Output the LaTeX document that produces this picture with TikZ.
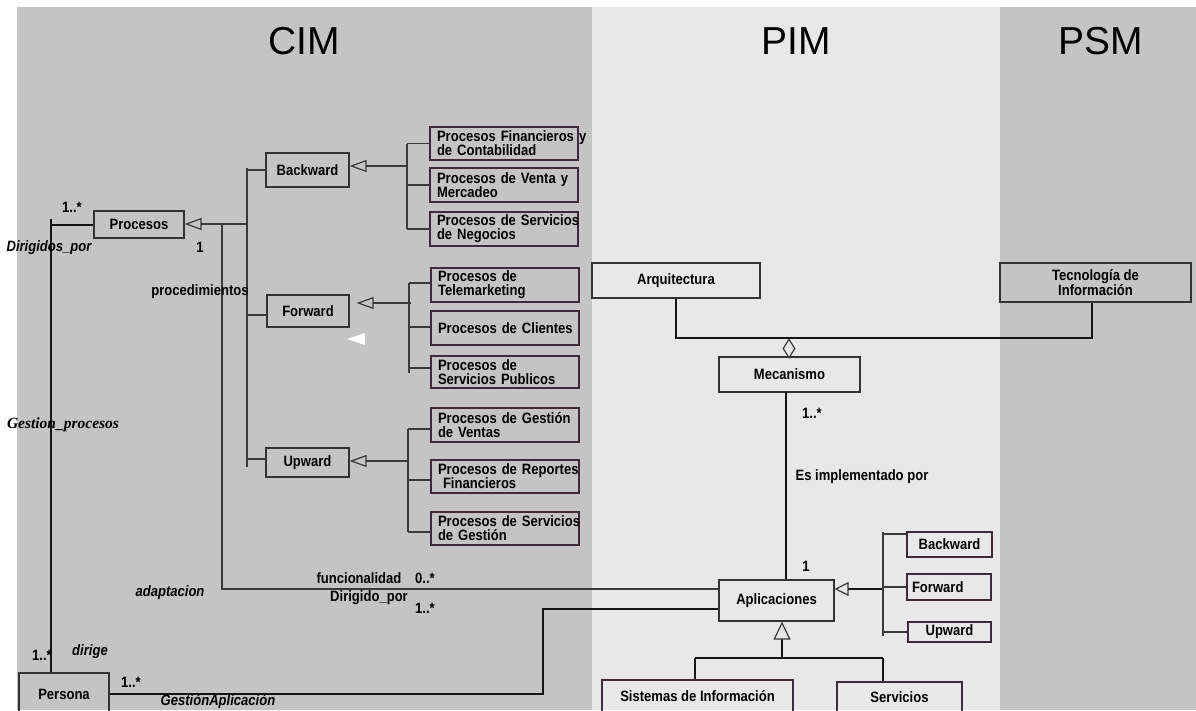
\documentclass[tikz,border=0pt]{standalone}
\usepackage{fontspec}
\setmainfont{Liberation Sans}
\newfontfamily\narfam[FakeStretch=0.87]{Liberation Sans}
\newfontfamily\serfam{Liberation Serif}
\usetikzlibrary{arrows.meta,shapes.geometric}
\definecolor{cimbg}{HTML}{C4C4C4}
\definecolor{pimbg}{HTML}{E8E8E8}
\definecolor{boxline}{HTML}{3D2B3A}
\definecolor{genline}{HTML}{3A3A3A}
\definecolor{assocline}{HTML}{141414}
\newcommand\lblfont{\narfam\bfseries\fontsize{15}{14}\selectfont}
\newcommand\ilblfont{\narfam\bfseries\itshape\fontsize{15}{14}\selectfont}
\newcommand\slblfont{\serfam\bfseries\itshape\fontsize{15.5}{15}\selectfont}
\begin{document}
\begin{tikzpicture}[x=1pt,y=-1pt,
  box/.style={draw=boxline, line width=1.2pt, inner sep=0pt, font=\lblfont, align=center},
  gbox/.style={box, draw=black!80},
  pbox/.style={box, text width=134pt, inner xsep=7pt, align=left, minimum width=148pt},
  lbl/.style={font=\lblfont, inner sep=0pt},
  ilbl/.style={font=\ilblfont, inner sep=0pt},
  slbl/.style={font=\slblfont, inner sep=0pt},
  head/.style={font=\fontsize{39}{39}\selectfont, inner sep=0pt},
  assoc/.style={draw=assocline, line width=2pt},
  gen/.style={draw=genline, line width=1.2pt},
  tri/.style={-{Triangle[open,length=17pt,width=12pt]}},
  rtri/.style={-{Triangle[open,length=14pt,width=14pt,line width=1.2pt,color=genline]}},
  btri/.style={-{Triangle[open,length=18pt,width=17pt,line width=1.2pt,color=genline]}}
]
\clip (0,0) rectangle (1196,710);
% backgrounds
\fill[white] (0,0) rectangle (1196,710);
\fill[cimbg] (17,7) rectangle (592,710);
\fill[pimbg] (592,7) rectangle (1000,710);
\fill[cimbg] (1000,7) rectangle (1196,710);
\node[head] (hcim) at (304,41) {CIM};
\node[head] (hpim) at (796,41) {PIM};
\node[head] (hpsm) at (1101,41) {PSM};

% CIM class boxes
\node[gbox, minimum width=90pt, minimum height=27pt] (procesos) at (139,224.5) {Procesos};
\node[gbox, minimum width=83pt, minimum height=34pt] (backward) at (307.5,170) {Backward};
\node[gbox, minimum width=82pt, minimum height=32pt] (forward) at (308,311) {Forward};
\node[gbox, minimum width=83pt, minimum height=29pt] (upward) at (307.5,462.5) {Upward};

% process boxes
\node[pbox, minimum height=33pt] (pfin) at (504,143.5) {\mbox{Procesos Financieros y}\\de Contabilidad};
\node[pbox, minimum height=34pt] (pven) at (504,185) {\mbox{Procesos de Venta y}\\Mercadeo};
\node[pbox, minimum height=34pt] (pneg) at (504,229) {\mbox{Procesos de Servicios}\\de Negocios};
\node[pbox, minimum height=34pt] (ptel) at (505,285) {Procesos de\\Telemarketing};
\node[pbox, minimum height=34pt] (pcli) at (505,328) {\mbox{Procesos de Clientes}};
\node[pbox, minimum height=32pt] (ppub) at (505,372) {Procesos de\\\mbox{Servicios Publicos}};
\node[pbox, minimum height=34pt] (pgv) at (505,425) {\mbox{Procesos de Gestión}\\de Ventas};
\node[pbox, minimum height=33pt] (prf) at (505,476.5) {\mbox{Procesos de Reportes}\\\ Financieros};
\node[pbox, minimum height=33pt] (psg) at (505,528.5) {\mbox{Procesos de Servicios}\\de Gestión};

\node[gbox, minimum width=90pt, minimum height=42pt] (persona) at (64,694) {Persona};

% PIM / PSM boxes
\node[gbox, minimum width=168pt, minimum height=35pt] (arq) at (676,280.5) {Arquitectura};
\node[gbox, minimum width=191pt, minimum height=39pt] (tec) at (1095.5,282.5) {Tecnología de\\Información};
\node[gbox, minimum width=141pt, minimum height=35pt] (mec) at (789.5,374.5) {Mecanismo};
\node[gbox, minimum width=115pt, minimum height=41pt] (apl) at (776.5,600.5) {Aplicaciones};
\node[box, minimum width=85pt, minimum height=25pt] (rbw) at (949.5,544.5) {Backward};
\node[box, minimum width=84pt, minimum height=26pt, text width=74pt, align=left, inner xsep=5pt] (rfw) at (949,587) {Forward};
\node[box, minimum width=83pt, minimum height=20pt] (ruw) at (949.5,632) {Upward};
\node[box, minimum width=191pt, minimum height=32pt] (sis) at (697.5,696) {Sistemas de Información};
\node[box, minimum width=125pt, minimum height=30pt] (ser) at (899.5,697) {Servicios};
\node[diamond, draw=genline, line width=1.2pt, aspect=0.63, minimum width=12pt, minimum height=19pt, inner sep=0pt] (dia) at (789,348.5) {};

% Procesos - Persona association
\coordinate (jPv) at (51,219);
\draw[assoc] (procesos.west) -- (procesos.west -| jPv);
\draw[assoc] (jPv) -- (jPv |- persona.north);

% generalization to Procesos
\coordinate (jG) at (247,224);
\coordinate (jF) at (222,224);
\coordinate (jGt) at (247,168);
\coordinate (jGb) at (247,467);
\coordinate (sF) at (247,315);
\coordinate (sU) at (247,459);
\draw[gen,tri] (jG) -- (jG -| procesos.east);
\draw[gen] (jGt) -- (jGb);
\draw[gen] (jG |- backward.west) -- (backward.west);
\draw[gen] (sF) -- (sF -| forward.west);
\draw[gen] (sU) -- (sU -| upward.west);

% funcionalidad line to Aplicaciones
\coordinate (jFb) at (222,589);
\draw[gen, line width=1.5pt] (jF) -- (jFb) -- (jFb -| apl.west);

% Backward group
\coordinate (jBk) at (407,166);
\draw[gen,tri] (jBk) -- (jBk -| backward.east);
\draw[gen] (jBk |- pfin.west) -- (jBk |- pneg.west);
\draw[gen] (jBk |- pfin.west) -- (pfin.west);
\draw[gen] (jBk |- pven.west) -- (pven.west);
\draw[gen] (jBk |- pneg.west) -- (pneg.west);

% Forward group
\coordinate (jFw) at (411,303);
\coordinate (fA) at (409,283);
\coordinate (fB) at (409,327);
\coordinate (fC) at (409,368);
\coordinate (fD) at (409,373);
\draw[gen,tri] (jFw) -- ([xshift=7pt]jFw -| forward.east);
\draw[gen] (fA) -- (fD);
\draw[gen] (fA) -- (fA -| ptel.west);
\draw[gen] (fB) -- (fB -| pcli.west);
\draw[gen] (fC) -- (fC -| ppub.west);
\fill[white] (347,339) -- (365,333) -- (365,345) -- cycle;

% Upward group
\coordinate (uJ) at (408,461);
\coordinate (uA) at (408,429);
\coordinate (uB) at (408,480);
\coordinate (uC) at (408,532);
\draw[gen,tri] (uJ) -- (uJ -| upward.east);
\draw[gen] (uA) -- (uC);
\draw[gen] (uA) -- (uA -| pgv.west);
\draw[gen] (uB) -- (uB -| prf.west);
\draw[gen] (uC) -- (uC -| psg.west);

% Persona - Aplicaciones
\coordinate (pJ) at (543,609);
\draw[assoc] (persona.east) -| (pJ) -- (pJ -| apl.west);

% Arquitectura / Tecnologia aggregation
\draw[assoc] (arq.south) |- (dia.north) -| ([xshift=-3.5pt]tec.south);

% Mecanismo - Aplicaciones
\coordinate (mA) at (786,392);
\draw[assoc] (mA) -- (mA |- apl.north);

% right generalization
\coordinate (rJ) at (883,589);
\coordinate (rT) at (883,532);
\coordinate (rA) at (883,534);
\coordinate (rB) at (883,587);
\coordinate (rC) at (883,632);
\coordinate (rD) at (883,636);
\draw[assoc,rtri] (rJ) -- (rJ -| apl.east);
\draw[gen] (rT) -- (rD);
\draw[gen] (rA) -- (rA -| rbw.west);
\draw[gen] (rB) -- (rB -| rfw.west);
\draw[gen] (rC) -- (rC -| ruw.west);

% bottom generalization
\coordinate (bJ) at (782,658);
\coordinate (bL) at (695,658);
\coordinate (bR) at (883,658);
\draw[assoc,btri] (bJ) -- (bJ |- apl.south);
\draw[assoc] (bL) -- (bR);
\draw[assoc] (bL) -- (bL |- sis.north);
\draw[assoc] (bR) -- (bR |- ser.north);

% labels
\node[lbl] (m1) at (72,207) {1..*};
\node[ilbl] (ldir) at (49,248) {Dirigidos\_por};
\node[lbl] (m2) at (200,247) {1};
\node[lbl] (lproc) at (200,292) {procedimientos};
\node[slbl] (lgest) at (63,425) {Gestion\_procesos};
\node[ilbl] (ladap) at (170,593) {adaptacion};
\node[lbl] (lfun) at (359,578) {funcionalidad};
\node[lbl] (m3) at (425,578) {0..*};
\node[lbl] (ldirg) at (369,598) {Dirigido\_por};
\node[lbl] (m4) at (425,608) {1..*};
\node[lbl] (m5) at (42,655) {1..*};
\node[ilbl] (ldirige) at (90,652) {dirige};
\node[lbl] (m6) at (131,682) {1..*};
\node[ilbl] (lga) at (218,702) {GestiónAplicación};
\node[lbl] (les) at (862,477) {Es implementado por};
\node[lbl] (m7) at (812,413) {1..*};
\node[lbl] (m8) at (806,566) {1};
\end{tikzpicture}
\end{document}
